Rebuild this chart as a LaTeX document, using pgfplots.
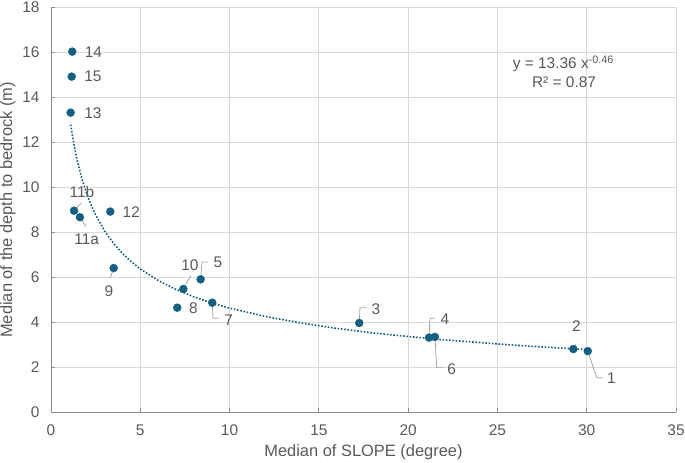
\documentclass[border=0pt]{standalone}
\usepackage{pgfplots}
\pgfplotsset{compat=1.18}
\usepackage{fontspec}
\setmainfont{Liberation Sans}
\definecolor{ptblue}{HTML}{156082}
\definecolor{gridgray}{HTML}{D9D9D9}
\definecolor{axisgray}{HTML}{8C8C8C}
\definecolor{textgray}{HTML}{595959}
\definecolor{leadgray}{HTML}{A6A6A6}
\newcommand{\tfont}{\fontsize{15.5}{16}\selectfont}
\newcommand{\lfont}{\fontsize{16.5}{18}\selectfont}
\begin{document}
\begin{tikzpicture}
\begin{axis}[
  scale only axis, width=625bp, height=405bp,
  xmin=0, xmax=35, ymin=0, ymax=18,
  xtick={0,5,...,35}, ytick={0,2,...,18},
  axis x line*=bottom, axis y line*=left,
  axis line style={color=axisgray, line width=0.8bp, -},
  grid=major, grid style={color=gridgray, line width=0.8bp},
  tick align=inside, major tick length=4bp,
  tick style={color=axisgray, line width=0.8bp},
  /pgf/number format/assume math mode=true,
  ticklabel style={font=\tfont, text=textgray},
  xticklabel style={yshift=-9bp},
  yticklabel style={xshift=-8bp},
  xlabel={Median of SLOPE (degree)},
  ylabel={Median of the depth to bedrock (m)},
  label style={font=\lfont, text=textgray},
  xlabel style={at={(axis description cs:0.5,0)}, anchor=center, yshift=-39.5bp},
  ylabel style={at={(axis description cs:0,0.5)}, anchor=center, yshift=43bp},
  clip=false,
]
% leader lines
\draw[leadgray, line width=0.8bp] (axis cs:1.288,8.96) -- (axis cs:1.719,9.32);
\draw[leadgray, line width=0.8bp] (axis cs:1.624,8.68) -- (axis cs:1.960,8.25);
\draw[leadgray, line width=0.8bp] (axis cs:3.528,6.41) -- (axis cs:3.304,5.97);
\draw[leadgray, line width=0.8bp] (axis cs:7.409,5.48) -- (axis cs:7.823,6.06);
\draw[leadgray, line width=0.8bp] (axis cs:8.38,5.91) -- (axis cs:8.456,6.68) -- (axis cs:8.792,6.68);
\draw[leadgray, line width=0.8bp] (axis cs:9.033,4.87) -- (axis cs:9.072,4.18) -- (axis cs:9.369,4.18);
\draw[leadgray, line width=0.8bp] (axis cs:17.26,3.97) -- (axis cs:17.304,4.65) -- (axis cs:17.679,4.65);
\draw[leadgray, line width=0.8bp] (axis cs:21.17,3.32) -- (axis cs:21.224,4.18) -- (axis cs:21.504,4.18);
\draw[leadgray, line width=0.8bp] (axis cs:21.50,3.35) -- (axis cs:21.60,1.98) -- (axis cs:21.94,1.98);
\draw[leadgray, line width=0.8bp] (axis cs:29.25,2.81) -- (axis cs:29.40,3.03);
\draw[leadgray, line width=0.8bp] (axis cs:30.06,2.72) -- (axis cs:30.56,1.54) -- (axis cs:30.89,1.54);
% power trend line
\addplot[ptblue, line width=1.6bp, dash pattern=on 1.6bp off 1.7bp] coordinates {
(1.1,12.79)(1.2,12.29)(1.3,11.84)(1.4,11.44)(1.5,11.09)(1.75,10.33)(2,9.71)(2.25,9.20)
(2.5,8.77)(3,8.06)(3.5,7.51)(4,7.06)(4.5,6.69)(5,6.37)(6,5.86)(7,5.46)(8,5.13)(9,4.86)
(10,4.63)(12,4.26)(14,3.97)(16,3.73)(18,3.53)(20,3.37)(22,3.22)(24,3.10)(26,2.98)(28,2.88)(30,2.79)
};
% data points
\addplot[only marks, mark=*, mark size=4bp, mark options={fill=ptblue, draw=ptblue}] coordinates {
(30.06,2.72) (29.25,2.81) (17.26,3.97) (21.17,3.32) (8.38,5.91) (21.50,3.35) (9.03,4.87)
(7.07,4.65) (3.51,6.41) (7.41,5.48) (1.62,8.67) (1.29,8.96) (3.32,8.92) (1.10,13.32)
(1.19,16.03) (1.16,14.92)
};
% point labels
\begin{scope}[every node/.style={font=\tfont, text=textgray, inner sep=0pt, anchor=center}]
\node at (axis cs:2.374,16.01) {14};
\node at (axis cs:2.352,14.92) {15};
\node at (axis cs:2.352,13.29) {13};
\node at (axis cs:1.736,9.78) {11b};
\node at (axis cs:1.999,7.70) {11a};
\node at (axis cs:4.497,8.90) {12};
\node at (axis cs:3.248,5.40) {9};
\node at (axis cs:7.784,6.55) {10};
\node at (axis cs:9.352,6.68) {5};
\node at (axis cs:7.969,4.62) {8};
\node at (axis cs:9.951,4.10) {7};
\node at (axis cs:18.20,4.59) {3};
\node at (axis cs:22.06,4.13) {4};
\node at (axis cs:22.44,1.91) {6};
\node at (axis cs:29.42,3.85) {2};
\node at (axis cs:31.38,1.51) {1};
\node at (axis cs:28.69,15.48) {y = 13.36 x\textsuperscript{-0.46}};
\node at (axis cs:28.73,14.67) {R² = 0.87};
\end{scope}
\end{axis}
\pgfresetboundingbox
\path ([shift={(-51bp,-50.7bp)}]current axis.south west) rectangle ([shift={(9bp,7.3bp)}]current axis.north east);
\end{tikzpicture}
\end{document}
